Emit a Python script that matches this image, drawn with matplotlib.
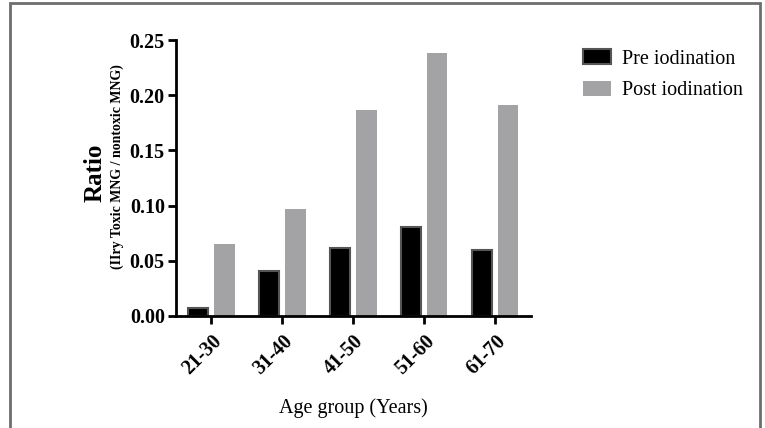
"""Pre vs post iodination ratio by age group (grouped bars)."""

import matplotlib

matplotlib.use("Agg")
import matplotlib.pyplot as plt  # noqa: E402
import numpy as np  # noqa: E402
from matplotlib.patches import Rectangle  # noqa: E402

age_groups = ["21-30", "31-40", "41-50", "51-60", "61-70"]
pre_iodination = [0.007, 0.041, 0.062, 0.081, 0.060]
post_iodination = [0.065, 0.097, 0.187, 0.238, 0.191]
y_ticks = [0.00, 0.05, 0.10, 0.15, 0.20, 0.25]

plt.rcParams["font.family"] = ["Liberation Serif", "DejaVu Serif"]

fig = plt.figure(figsize=(7.65, 4.28), dpi=100)
ax = fig.add_axes([0.230, 0.2617, 0.464, 0.6448])

x = np.arange(len(age_groups))
w = 0.29
ax.bar(x - 0.19, pre_iodination, w, color="black", edgecolor="#555555",
       linewidth=1.5, label="Pre iodination")
ax.bar(x + 0.18, post_iodination, w, color="#a3a3a6", linewidth=0,
       label="Post iodination")

ax.set_xlim(-0.5, 4.5)
ax.set_ylim(0, 0.25)
ax.set_yticks(y_ticks)
ax.set_yticklabels([f"{t:.2f}" for t in y_ticks], fontsize=14.5, fontweight="bold")
ax.set_xticks(x)
ax.set_xticklabels(age_groups, rotation=45, ha="right", rotation_mode="anchor",
                   fontsize=14.5, fontweight="bold")
ax.tick_params(axis="both", direction="out", length=6, width=2, pad=2)
ax.tick_params(axis="x", pad=5)
for side in ("top", "right"):
    ax.spines[side].set_visible(False)
for side in ("left", "bottom"):
    ax.spines[side].set_linewidth(2)

ax.set_xlabel("Age group (Years)", fontsize=14.5, labelpad=14)
fig.text(0.124, 0.596, "Ratio", rotation=90, ha="center", va="center",
         fontsize=18, fontweight="bold")
fig.text(0.153, 0.612, "(IIry Toxic MNG / nontoxic MNG)", rotation=90,
         ha="center", va="center", fontsize=10, fontweight="bold")

fig.legend(loc="upper left", bbox_to_anchor=(0.738, 0.927), frameon=False,
           fontsize=14.5, handlelength=1.4, handleheight=0.75,
           labelspacing=0.6, handletextpad=0.55)

# outer frame of the original figure panel
fig.patches.append(Rectangle((0.0135, -0.05), 0.98, 1.043,
                             transform=fig.transFigure, fill=False,
                             edgecolor="#6e6e6e", linewidth=2))

fig.savefig("out.png", dpi=100)
plt.close(fig)
